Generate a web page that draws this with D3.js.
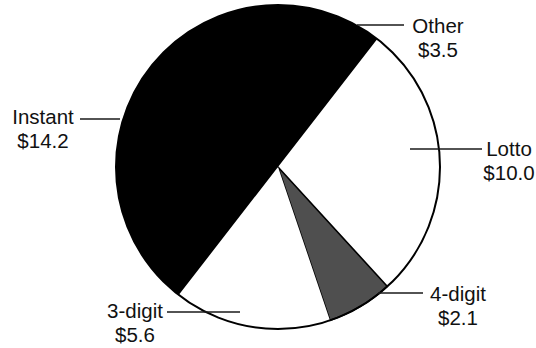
<!DOCTYPE html>
<html>
<head>
<meta charset="utf-8">
<script src="https://cdn.jsdelivr.net/npm/d3@7"></script>
<style>
  html, body { margin: 0; padding: 0; background: #fff; }
  svg { display: block; }
  text { font-family: "Liberation Sans", Arial, Helvetica, sans-serif; fill: #111; }
</style>
</head>
<body>
<svg id="chart" width="536" height="348"></svg>
<script>
// ---- data ----
const categories = ["Other", "Lotto", "4-digit", "3-digit", "Instant"];
const amounts = [3.5, 10.0, 2.1, 5.6, 14.2];           // label values, $ billions
const drawnShare = [7.0, 20.7, 6.6, 15.7, 50.0];       // slice sizes as drawn (% of circle)
const fills = ["#ffffff", "#ffffff", "#4f4f4f", "#ffffff", "#000000"];

// ---- layout ----
const W = 536, H = 348;
const cx = 278, cy = 167, R = 162;
const startDeg = 37.8;

// label layout: text centre x, first baseline y, leader y and x-range (relative to centre)
const labelLayout = {
  "Other":   { tx: 160, ty: -134, ly: -142, lx0: 79,   lx1: 126 },
  "Lotto":   { tx: 231, ty: -11,  ly: -18,  lx0: 132,  lx1: 204 },
  "4-digit": { tx: 180, ty: 134,  ly: 126,  lx0: 100,  lx1: 145 },
  "3-digit": { tx: -143, ty: 151, ly: 145,  lx0: -111, lx1: -38 },
  "Instant": { tx: -235, ty: -43, ly: -48,  lx0: -198, lx1: -158 }
};

const data = categories.map((c, i) => ({ name: c, amount: amounts[i], share: drawnShare[i], fill: fills[i] }));

const svg = d3.select("#chart");
const g = svg.append("g").attr("transform", `translate(${cx},${cy})`);

const pie = d3.pie()
  .sort(null)
  .value(d => d.share)
  .startAngle(startDeg * Math.PI / 180)
  .endAngle((startDeg + 360) * Math.PI / 180);

const arc = d3.arc().innerRadius(0).outerRadius(R);
const arcs = pie(data);

// slice fills
g.selectAll("path.slice")
  .data(arcs)
  .join("path")
  .attr("class", "slice")
  .attr("d", arc)
  .attr("fill", d => d.data.fill)
  .attr("stroke", d => d.data.name === "4-digit" ? "#000" : "none")
  .attr("stroke-width", 1.6)
  .attr("stroke-linejoin", "round");

// outer outline
g.append("circle")
  .attr("r", R)
  .attr("fill", "none")
  .attr("stroke", "#000")
  .attr("stroke-width", 2);

// leaders + labels
const lab = g.selectAll("g.label")
  .data(data)
  .join("g")
  .attr("class", "label");

lab.append("line")
  .attr("x1", d => labelLayout[d.name].lx0)
  .attr("x2", d => labelLayout[d.name].lx1)
  .attr("y1", d => labelLayout[d.name].ly)
  .attr("y2", d => labelLayout[d.name].ly)
  .attr("stroke", "#1a1a1a")
  .attr("stroke-width", 1.4);

const t = lab.append("text")
  .attr("text-anchor", "middle")
  .attr("font-size", "20.5px")
  .attr("x", d => labelLayout[d.name].tx)
  .attr("y", d => labelLayout[d.name].ty);

t.append("tspan")
  .attr("x", d => labelLayout[d.name].tx)
  .text(d => d.name);

t.append("tspan")
  .attr("x", d => labelLayout[d.name].tx)
  .attr("dy", 23.5)
  .text(d => "$" + d3.format(".1f")(d.amount));
</script>
</body>
</html>
